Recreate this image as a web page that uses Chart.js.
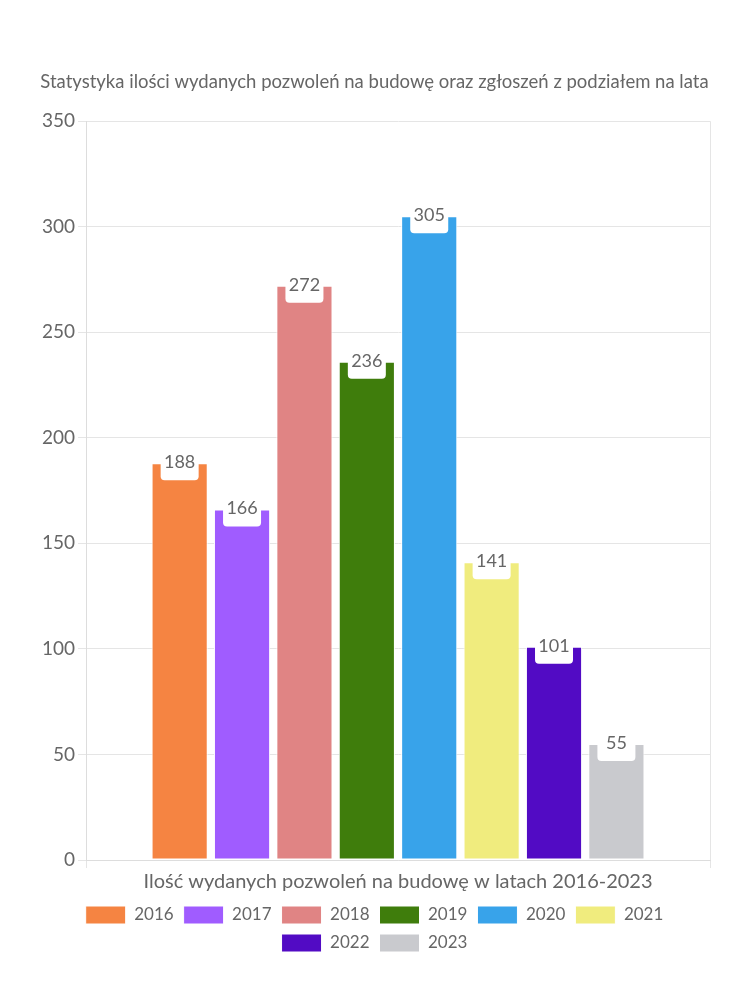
<!DOCTYPE html>
<html>
<head>
<meta charset="utf-8">
<script src="https://cdn.jsdelivr.net/npm/chart.js@4"></script>
<style>
  body { margin: 0; background: #fff; }
  #wrap { width: 750px; height: 1000px; }
</style>
</head>
<body>
<div id="wrap"><canvas id="chart"></canvas></div>
<script>
const categories = ["Ilość wydanych pozwoleń na budowę w latach 2016-2023"];
const years = ["2016", "2017", "2018", "2019", "2020", "2021", "2022", "2023"];
const permits = [188, 166, 272, 236, 305, 141, 101, 55];
const colors = ["#F58442", "#A05CFF", "#E08484", "#3F7D0C", "#38A3EA", "#F0EC7E", "#520BC4", "#C9CACE"];
const yTicks = [0, 50, 100, 150, 200, 250, 300, 350];

const fontFamily = "Lato, 'Noto Sans', sans-serif";

// label in a white box sitting on top of each bar
const barLabels = {
  id: "barLabels",
  afterDatasetsDraw(chart) {
    const ctx = chart.ctx;
    ctx.save();
    chart.data.datasets.forEach((ds, i) => {
      const meta = chart.getDatasetMeta(i);
      meta.data.forEach((bar, j) => {
        const w = 38, top = bar.y - 16, h = 33;
        ctx.fillStyle = "#fff";
        ctx.beginPath();
        ctx.roundRect(bar.x - w / 2, top, w, h, 4);
        ctx.fill();
        ctx.fillStyle = "#666";
        ctx.font = "18px " + fontFamily;
        ctx.textAlign = "center";
        ctx.textBaseline = "middle";
        ctx.fillText(ds.data[j], bar.x, bar.y - 1);
      });
    });
    ctx.restore();
  }
};

new Chart(document.getElementById("chart"), {
  type: "bar",
  data: {
    labels: categories,
    datasets: years.map((y, i) => ({
      label: y,
      data: [permits[i]],
      backgroundColor: colors[i],
      borderColor: "#fff",
      borderWidth: 1,
      borderSkipped: false
    }))
  },
  options: {
    responsive: true,
    maintainAspectRatio: false,
    animation: false,
    layout: { padding: { top: 71, left: 39, right: 40, bottom: 38 } },
    plugins: {
      title: {
        display: true,
        text: "Statystyka ilości wydanych pozwoleń na budowę oraz zgłoszeń z podziałem na lata",
        color: "#666",
        font: { family: fontFamily, size: 18.5, weight: "normal" },
        padding: { top: 0, bottom: 28 }
      },
      legend: {
        position: "bottom",
        labels: {
          color: "#666",
          font: { family: fontFamily, size: 17 },
          boxWidth: 40,
          boxHeight: 18,
          padding: 10
        }
      },
      tooltip: { enabled: false }
    },
    scales: {
      x: {
        grid: { color: "#e5e5e5", tickLength: 8 },
        border: { color: "#ddd" },
        ticks: { color: "#666", padding: 2, font: { family: fontFamily, size: 20 } }
      },
      y: {
        min: 0,
        max: 350,
        afterBuildTicks(axis) { axis.ticks = yTicks.map(v => ({ value: v })); },
        grid: { color: "#e5e5e5", tickLength: 8 },
        border: { color: "#ddd" },
        ticks: { color: "#666", font: { family: fontFamily, size: 19 } }
      }
    }
  },
  plugins: [barLabels]
});
</script>
</body>
</html>
